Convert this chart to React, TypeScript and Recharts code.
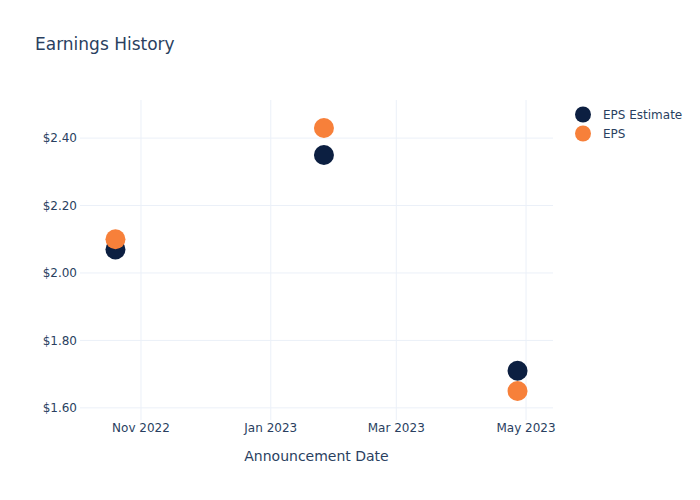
import { ScatterChart, Scatter, XAxis, YAxis, CartesianGrid } from 'recharts'

const dates = ['2022-10-20', '2023-01-26', '2023-04-27']
const epsEstimate = [2.07, 2.35, 1.71]
const eps = [2.1, 2.43, 1.65]
const xTicks = ['2022-11-01', '2023-01-01', '2023-03-01', '2023-05-01']
const yTicks = [1.6, 1.8, 2.0, 2.2, 2.4]

const ts = (d: string) => new Date(d + 'T00:00:00Z').getTime()
const MONTHS = ['Jan', 'Feb', 'Mar', 'Apr', 'May', 'Jun', 'Jul', 'Aug', 'Sep', 'Oct', 'Nov', 'Dec']

const estData = dates.map((d, i) => ({ x: ts(d), y: epsEstimate[i] }))
const epsData = dates.map((d, i) => ({ x: ts(d), y: eps[i] }))

const NAVY = '#0c1f41'
const ORANGE = '#f7803a'
const TEXT = '#2a3f5f'
const FONT = '"DejaVu Sans", Verdana, sans-serif'

const dot = (color: string) => (props: any) => <circle cx={props.cx} cy={props.cy} r={10} fill={color} />

function LegendBox() {
  const items = [
    { name: 'EPS Estimate', color: NAVY },
    { name: 'EPS', color: ORANGE },
  ]
  return (
    <div style={{ position: 'absolute', left: 573, top: 105, fontFamily: FONT, fontSize: 12, color: TEXT }}>
      {items.map((it) => (
        <div key={it.name} style={{ display: 'flex', alignItems: 'center', height: 19 }}>
          <svg width={20} height={19}>
            <circle cx={10} cy={9.5} r={8} fill={it.color} />
          </svg>
          <span style={{ marginLeft: 10 }}>{it.name}</span>
        </div>
      ))}
    </div>
  )
}

export default function App() {
  return (
    <div style={{ position: 'absolute', left: 0, top: 0, width: 700, height: 500, background: '#fff' }}>
      <div
        style={{
          position: 'absolute',
          left: 35,
          top: 34,
          fontFamily: FONT,
          fontSize: 17,
          color: TEXT,
        }}
      >
        Earnings History
      </div>
      <ScatterChart width={700} height={500} margin={{ top: 100, right: 147, bottom: 0, left: 0 }}>
        <CartesianGrid stroke="#ebf0f8" strokeWidth={1} syncWithTicks />
        <XAxis
          type="number"
          dataKey="x"
          domain={[ts('2022-10-03') + 8 * 3600e3, ts('2023-05-13') + 16 * 3600e3]}
          ticks={xTicks.map(ts)}
          tickFormatter={(v: number) => {
            const d = new Date(v)
            return `${MONTHS[d.getUTCMonth()]} ${d.getUTCFullYear()}`
          }}
          axisLine={false}
          tickLine={false}
          tickSize={0}
          tickMargin={3}
          height={80}
          tick={{ fill: TEXT, fontSize: 12, fontFamily: FONT }}
          label={{
            value: 'Announcement Date',
            position: 'insideBottom',
            offset: 39,
            fill: TEXT,
            fontSize: 14,
            fontFamily: FONT,
          }}
          allowDataOverflow
        />
        <YAxis
          type="number"
          dataKey="y"
          domain={[1.564, 2.513]}
          ticks={yTicks}
          tickFormatter={(v: number) => `$${v.toFixed(2)}`}
          axisLine={false}
          tickLine={false}
          tickSize={0}
          tickMargin={3}
          width={80}
          tick={{ fill: TEXT, fontSize: 12, fontFamily: FONT }}
          allowDataOverflow
        />
        <Scatter name="EPS Estimate" data={estData} fill={NAVY} shape={dot(NAVY)} isAnimationActive={false} />
        <Scatter name="EPS" data={epsData} fill={ORANGE} shape={dot(ORANGE)} isAnimationActive={false} />
      </ScatterChart>
      <LegendBox />
    </div>
  )
}
